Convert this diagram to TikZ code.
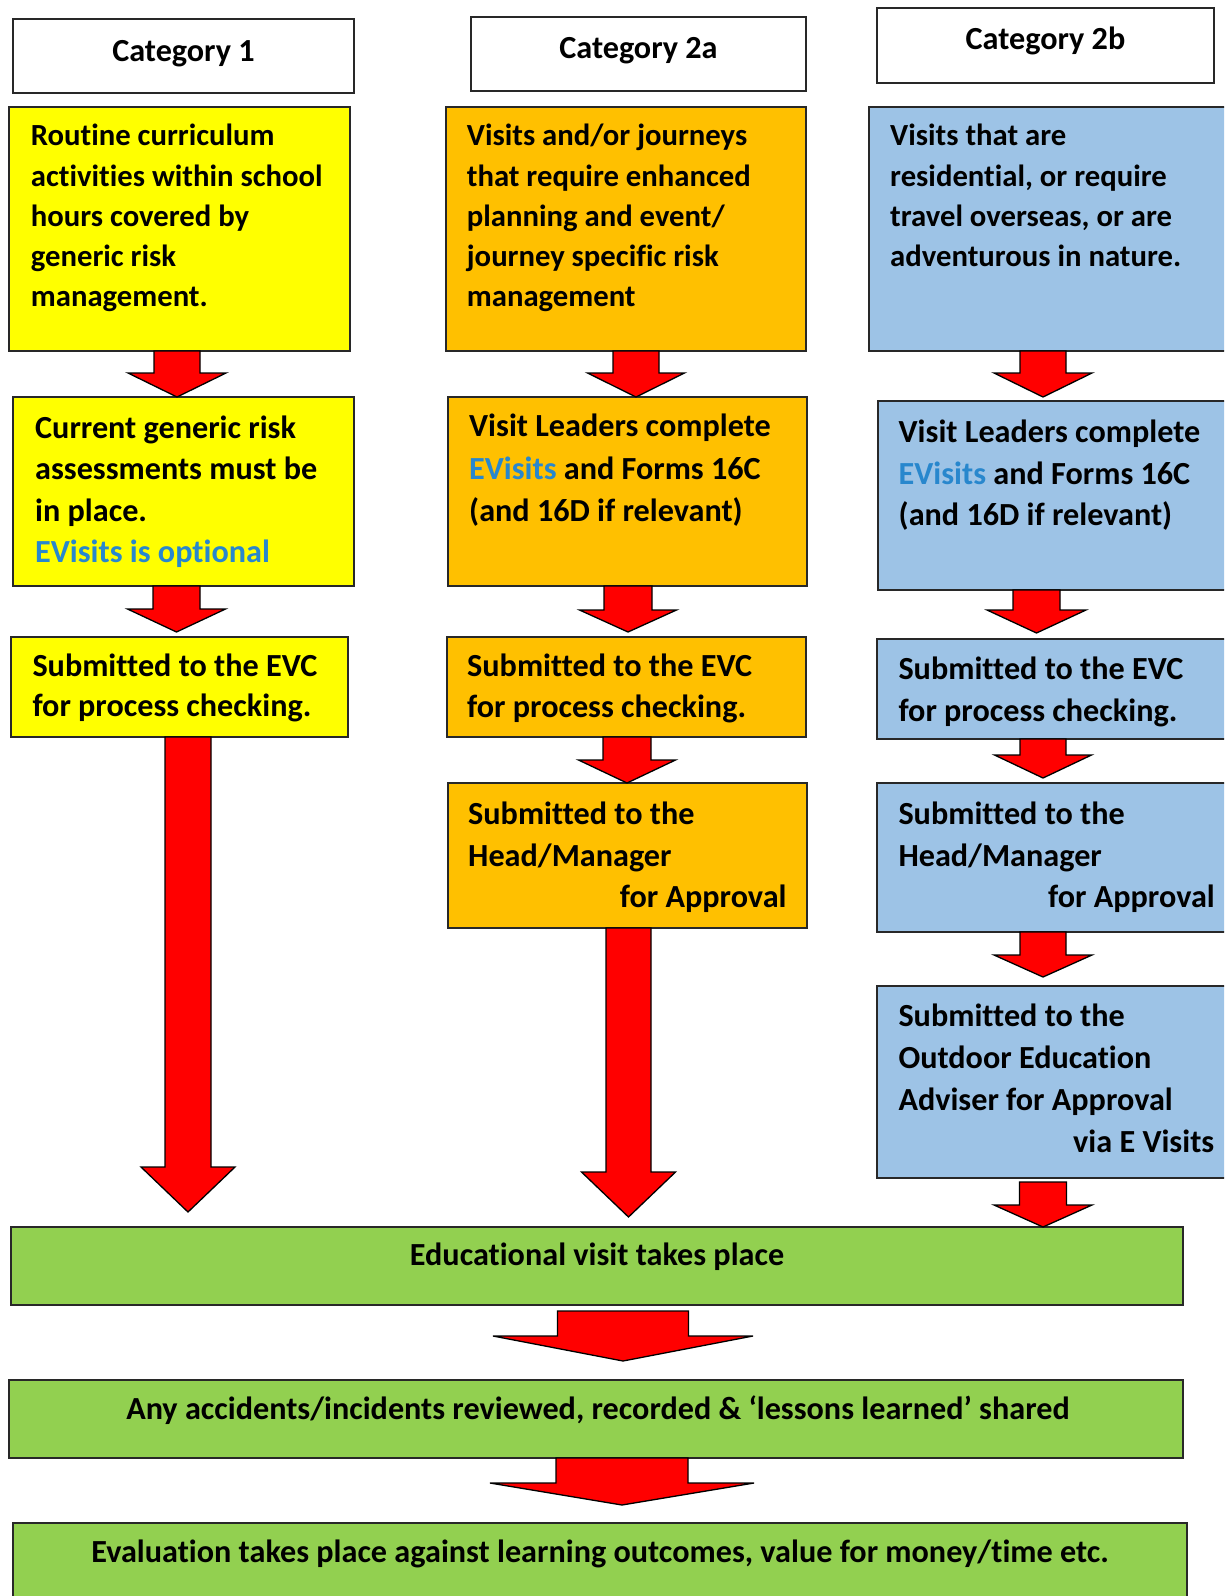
\documentclass[tikz,border=0pt]{standalone}
\usepackage{fontspec}
\setmainfont{Carlito}[Ligatures=NoCommon]
\usetikzlibrary{calc}
\definecolor{yel}{RGB}{255,255,0}
\definecolor{org}{RGB}{255,192,0}
\definecolor{blu}{RGB}{157,195,230}
\definecolor{grn}{RGB}{146,208,80}
\definecolor{evb}{RGB}{40,135,205}
\definecolor{edge}{RGB}{40,40,40}
\newcommand\bfs[1]{\fontsize{32.2}{#1}\selectfont\bfseries}
\newcommand\bft[1]{\fontsize{30.7}{#1}\selectfont\bfseries}
\newcommand\bfl{\fontsize{32.2}{40}\selectfont\bfseries}
\newcommand\lines[1]{\begin{tabular}[t]{@{}l@{}}#1\end{tabular}}
% #1 from, #2 to, #3 xc, #4 stem half width, #5 head half width, #6 head length, #7 top gap, #8 tip gap
\newcommand\barrow[8]{%
  \draw[blockarrow] let \p1=(#1.south), \p2=(#2.north) in
    (#3pt-#4pt,\y1-#7pt) -- (#3pt+#4pt,\y1-#7pt) -- (#3pt+#4pt,\y2+#8pt+#6pt)
    -- (#3pt+#5pt,\y2+#8pt+#6pt) -- (#3pt,\y2+#8pt) -- (#3pt-#5pt,\y2+#8pt+#6pt)
    -- (#3pt-#4pt,\y2+#8pt+#6pt) -- cycle;}
\tikzset{
  box/.style={draw=edge, line width=1.6pt, inner sep=0pt, outer sep=0pt, anchor=north west, rectangle},
  txt/.style={anchor=base west, inner sep=0pt},
  ctxt/.style={anchor=base, inner sep=0pt, font=\bfl},
  blockarrow/.style={fill=red, draw=black, line width=1.3pt, line join=miter}
}
\begin{document}
\begin{tikzpicture}[x=1pt, y=-1pt]
\useasboundingbox (0,0) rectangle (1224,1596);
\clip (0,0) rectangle (1224,1596);
\fill[white] (0,0) rectangle (1224,1596);
% headers
\node[box, fill=white, minimum width=341pt, minimum height=74pt] (h1) at (13,19) {};
\node[box, fill=white, minimum width=335pt, minimum height=74pt] (h2) at (471,17) {};
\node[box, fill=white, minimum width=337pt, minimum height=75pt] (h3) at (877,8) {};
\node[ctxt] (h1t) at (183.5,61) {Category 1};
\node[ctxt] (h2t) at (638.5,58.3) {Category 2a};
\node[ctxt] (h3t) at (1045.5,49.3) {Category 2b};
% column 1
\node[box, fill=yel, minimum width=341pt, minimum height=244pt] (y1) at (9,107) {};
\node[box, fill=yel, minimum width=341pt, minimum height=189pt] (y2) at (13,397) {};
\node[box, fill=yel, minimum width=337pt, minimum height=100pt] (y3) at (11,637) {};
% column 2
\node[box, fill=org, minimum width=360pt, minimum height=244pt] (o1) at (446,107) {};
\node[box, fill=org, minimum width=359pt, minimum height=189pt] (o2) at (448,397) {};
\node[box, fill=org, minimum width=359pt, minimum height=100pt] (o3) at (447,637) {};
\node[box, fill=org, minimum width=359pt, minimum height=145pt] (o4) at (448,783) {};
% column 3
\node[box, fill=blu, minimum width=371pt, minimum height=244pt] (b1) at (869,107) {};
\node[box, fill=blu, minimum width=362pt, minimum height=189pt] (b2) at (878,401) {};
\node[box, fill=blu, minimum width=363pt, minimum height=100pt] (b3) at (877,639) {};
\node[box, fill=blu, minimum width=363pt, minimum height=149pt] (b4) at (877,783) {};
\node[box, fill=blu, minimum width=363pt, minimum height=192pt] (b5) at (877,986) {};
% bottom
\node[box, fill=grn, minimum width=1172pt, minimum height=78pt] (g1) at (11,1227) {};
\node[box, fill=grn, minimum width=1174pt, minimum height=78pt] (g2) at (9,1380) {};
\node[box, fill=grn, minimum width=1174pt, minimum height=90pt] (g3) at (13,1523) {};
% texts
\node[txt, font=\bft{40.3}] (y1t) at (30.7,145.7) {\lines{Routine curriculum\\activities within school\\hours covered by\\generic risk\\management.}};
\node[txt, font=\bfs{41.4}] (y2t) at (35,438.3) {\lines{Current generic risk\\assessments must be\\in place.\\{\color{evb}EVisits is optional}}};
\node[txt, font=\bfs{40.7}] (y3t) at (32.3,676) {\lines{Submitted to the EVC\\for process checking.}};
\node[txt, font=\bft{40.3}] (o1t) at (466.7,145.7) {\lines{Visits and/or journeys\\that require enhanced\\planning and event/\\journey specific risk\\management}};
\node[txt, font=\bfs{42.5}] (o2t) at (469,436.7) {\lines{Visit Leaders complete\\{\color{evb}EVisits} and Forms 16C\\(and 16D if relevant)}};
\node[txt, font=\bfs{41}] (o3t) at (467,676) {\lines{Submitted to the EVC\\for process checking.}};
\node[txt, font=\bfs{41.7}] (o4t) at (468,824.3) {\lines{Submitted to the\\Head/Manager\\\hspace*{151.7pt}for Approval}};
\node[txt, font=\bft{40.3}] (b1t) at (890,145.7) {\lines{Visits that are\\residential, or require\\travel overseas, or are\\adventurous in nature.}};
\node[txt, font=\bfs{41.6}] (b2t) at (898.5,442.4) {\lines{Visit Leaders complete\\{\color{evb}EVisits} and Forms 16C\\(and 16D if relevant)}};
\node[txt, font=\bfs{42.4}] (b3t) at (898.3,679.3) {\lines{Submitted to the EVC\\for process checking.}};
\node[txt, font=\bfs{41.7}] (b4t) at (898.3,824.3) {\lines{Submitted to the\\Head/Manager\\\hspace*{149.7pt}for Approval}};
\node[txt, font=\bfs{42}] (b5t) at (898.3,1026.7) {\lines{Submitted to the\\Outdoor Education\\Adviser for Approval\\\hspace*{174.7pt}via E Visits}};
\node[ctxt] (g1t) at (597,1265) {Educational visit takes place};
\node[ctxt] (g2t) at (598,1419) {Any accidents/incidents reviewed, recorded \& ‘lessons learned’ shared};
\node[ctxt] (g3t) at (600,1562) {Evaluation takes place against learning outcomes, value for money/time etc.};
% arrows
\barrow{y1}{y2}{177}{23}{49}{24}{0}{0}
\barrow{y2}{y3}{176.5}{23.5}{49}{23}{0}{5}
\barrow{y3}{g1}{188}{23}{47}{45}{0}{15}
\barrow{o1}{o2}{636}{23}{48.5}{24}{0}{0}
\barrow{o2}{o3}{628}{24}{48.5}{22}{0}{5}
\barrow{o3}{o4}{627}{24}{48.5}{23}{0}{0}
\barrow{o4}{g1}{628.5}{22.5}{47}{45}{0}{10}
\barrow{b1}{b2}{1043}{23}{49}{24}{0}{4}
\barrow{b2}{b3}{1036.5}{23.5}{49.5}{23}{0}{6}
\barrow{b3}{b4}{1043}{23}{48.5}{23}{0}{5}
\barrow{b4}{b5}{1043}{23}{49}{22}{0}{9}
\barrow{b5}{g1}{1043}{23.5}{49}{22}{4}{0}
\barrow{g1}{g2}{623}{65.5}{130}{25}{6}{19}
\barrow{g2}{g3}{622}{66}{132}{22}{0}{18}
\end{tikzpicture}
\end{document}
